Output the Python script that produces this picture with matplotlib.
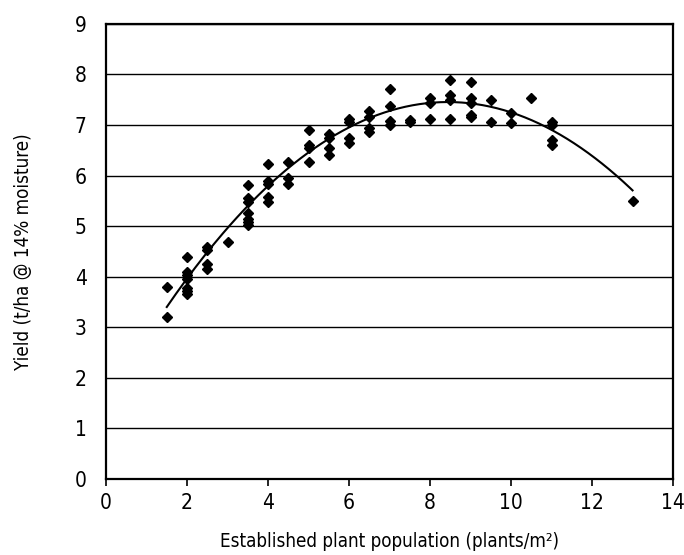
import numpy as np
import matplotlib.pyplot as plt

plt.rcParams['font.family'] = ['Liberation Sans Narrow', 'DejaVu Sans']
plt.rcParams['font.stretch'] = 'condensed'

# plants/m2 and yield (t/ha)
plants = [1.5, 1.5, 2, 2, 2, 2, 2, 2, 2,
          2.5, 2.5, 2.5, 2.5, 3,
          3.5, 3.5, 3.5, 3.5, 3.5, 3.5, 3.5,
          4, 4, 4, 4, 4, 4.5, 4.5, 4.5,
          5, 5, 5, 5, 5.5, 5.5, 5.5, 5.5,
          6, 6, 6, 6, 6.5, 6.5, 6.5, 6.5,
          7, 7, 7, 7, 7.5, 7.5, 8, 8, 8,
          8.5, 8.5, 8.5, 8.5, 9, 9, 9, 9, 9,
          9.5, 9.5, 10, 10, 10.5, 11, 11, 11, 11, 13]
yields = [3.8, 3.2, 4.38, 4.1, 4.03, 3.95, 3.78, 3.72, 3.65,
          4.58, 4.52, 4.25, 4.15, 4.68,
          5.82, 5.55, 5.48, 5.25, 5.15, 5.08, 5.03,
          6.22, 5.9, 5.83, 5.58, 5.48, 6.27, 5.95, 5.83,
          6.9, 6.6, 6.55, 6.27, 6.82, 6.75, 6.55, 6.4,
          7.12, 7.05, 6.75, 6.65, 7.28, 7.15, 6.95, 6.87,
          7.72, 7.38, 7.07, 7.0, 7.1, 7.06, 7.54, 7.43, 7.11,
          7.89, 7.6, 7.5, 7.12, 7.85, 7.53, 7.43, 7.2, 7.15,
          7.5, 7.06, 7.24, 7.03, 7.54, 7.05, 7.0, 6.7, 6.6, 5.5]

# quadratic trendline as drawn on the chart
trend_coef = [-0.0841, 1.42, 1.46]
trend_range = (1.5, 13)

fig = plt.figure(figsize=(6.84, 5.55), dpi=100)
ax = fig.add_axes([0.155, 0.137, 0.829, 0.820])

ax.plot(plants, yields, 'D', color='black', ms=5.5, zorder=3)
xt = np.linspace(*trend_range, 200)
ax.plot(xt, np.polyval(trend_coef, xt), color='black', lw=1.5, zorder=2)

ax.set_xlim(0, 14)
ax.set_ylim(0, 9)
ax.set_xticks(range(0, 15, 2))
ax.set_yticks(range(0, 10))
ax.yaxis.grid(True, color='black', lw=1.0)
ax.set_axisbelow(True)
for s in ax.spines.values():
    s.set_linewidth(1.6)
ax.tick_params(axis='x', direction='out', length=5, width=1.2, labelsize=15, pad=5)
ax.tick_params(axis='y', length=0, labelsize=15, pad=14)

ax.set_xlabel('Established plant population (plants/m²)', fontsize=13.5, labelpad=14)
ax.set_ylabel('Yield (t/ha @ 14% moisture)', fontsize=13.5, labelpad=30)

fig.savefig('out.png', dpi=100)
